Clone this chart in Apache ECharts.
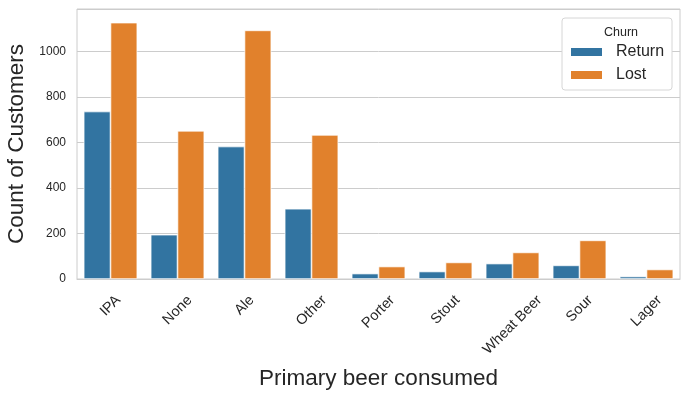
<!DOCTYPE html>
<html>
<head>
<meta charset="utf-8">
<script src="https://cdn.jsdelivr.net/npm/echarts@6/dist/echarts.min.js"></script>
<style>
  html, body { margin: 0; padding: 0; background: #fff; }
  #chart { width: 690px; height: 397px; }
</style>
</head>
<body>
<div id="chart"></div>
<script>
'use strict';

var beers = ['IPA', 'None', 'Ale', 'Other', 'Porter', 'Stout', 'Wheat Beer', 'Sour', 'Lager'];
var returnCounts = [737, 195, 583, 309, 24, 33, 68, 60, 11];
var lostCounts = [1128, 652, 1094, 634, 55, 73, 117, 170, 42];
var yTicks = [0, 200, 400, 600, 800, 1000];

var FONT = '"Liberation Sans", Arial, sans-serif';
var INK = '#262626';
var LINE = '#cccccc';
var TICK_SIZE = 14.5;

// matplotlib centres a rotated label's box under the tick; echarts rotates
// around the anchor, so pad each label to push its centre back under the tick
function _labelRich(labels) {
    var ctx = document.createElement('canvas').getContext('2d');
    ctx.font = TICK_SIZE + 'px ' + FONT;
    var rich = {};
    labels.forEach(function(txt, i) {
        var len = ctx.measureText(txt).width;
        var p = (len + TICK_SIZE * 1.15) / 2;
        rich['c' + i] = {
            fontSize: TICK_SIZE,
            fontFamily: FONT,
            color: INK,
            padding: [p, p, 0, 0]
        };
    });
    return rich;
}

var chart = echarts.init(document.getElementById('chart'), null, { renderer: 'canvas' });

chart.setOption({
    animation: false,
    backgroundColor: '#ffffff',
    textStyle: { fontFamily: FONT },
    grid: {
        left: 77, right: 10, top: 9, bottom: 118,
        containLabel: false,
        outerBoundsMode: 'none',
        show: true, borderColor: LINE, borderWidth: 1
    },
    title: {
        text: 'Churn',
        left: 616, top: 21,
        textAlign: 'center',
        textStyle: { fontSize: 12.5, fontWeight: 'normal', color: INK, fontFamily: FONT }
    },
    legend: {
        orient: 'vertical',
        left: 562, top: 18,
        padding: [26, 8, 7, 7],
        itemGap: 7,
        itemWidth: 33, itemHeight: 10,
        icon: 'rect',
        backgroundColor: '#ffffff',
        borderColor: '#d6d6d6', borderWidth: 1, borderRadius: 3,
        textStyle: { fontSize: 16, color: INK, fontFamily: FONT, padding: [0, 0, 0, 8] },
        data: ['Return', 'Lost']
    },
    xAxis: {
        type: 'category',
        data: beers,
        name: 'Primary beer consumed',
        nameLocation: 'middle',
        nameGap: 88,
        nameTextStyle: { fontSize: 22.5, color: INK, fontFamily: FONT },
        axisLine: { lineStyle: { color: LINE } },
        axisTick: { show: false },
        splitLine: { show: false },
        axisLabel: {
            interval: 0,
            rotate: 45,
            margin: 13,
            align: 'center',
            verticalAlign: 'middle',
            formatter: function(v) { return '{c' + beers.indexOf(v) + '|' + v + '}'; },
            rich: _labelRich(beers)
        }
    },
    yAxis: {
        type: 'value',
        min: 0, max: 1188, interval: 200,
        name: 'Count of Customers',
        nameLocation: 'middle',
        nameGap: 46,
        nameTextStyle: { fontSize: 22.5, color: INK, fontFamily: FONT },
        axisLine: { show: false },
        axisTick: { show: false },
        axisLabel: {
            fontSize: 12, color: INK, margin: 11, showMaxLabel: false,
            formatter: function(v) { return yTicks.indexOf(v) >= 0 ? String(v) : ''; }
        },
        splitLine: { lineStyle: { color: LINE, width: 1 } }
    },
    series: [
        {
            name: 'Return',
            type: 'bar',
            data: returnCounts,
            barGap: '0%',
            barCategoryGap: '20%',
            itemStyle: { color: '#3274a1', borderColor: '#ffffff', borderWidth: 0.7 }
        },
        {
            name: 'Lost',
            type: 'bar',
            data: lostCounts,
            barGap: '0%',
            barCategoryGap: '20%',
            itemStyle: { color: '#e1812c', borderColor: '#ffffff', borderWidth: 0.7 }
        }
    ]
});
</script>
</body>
</html>
